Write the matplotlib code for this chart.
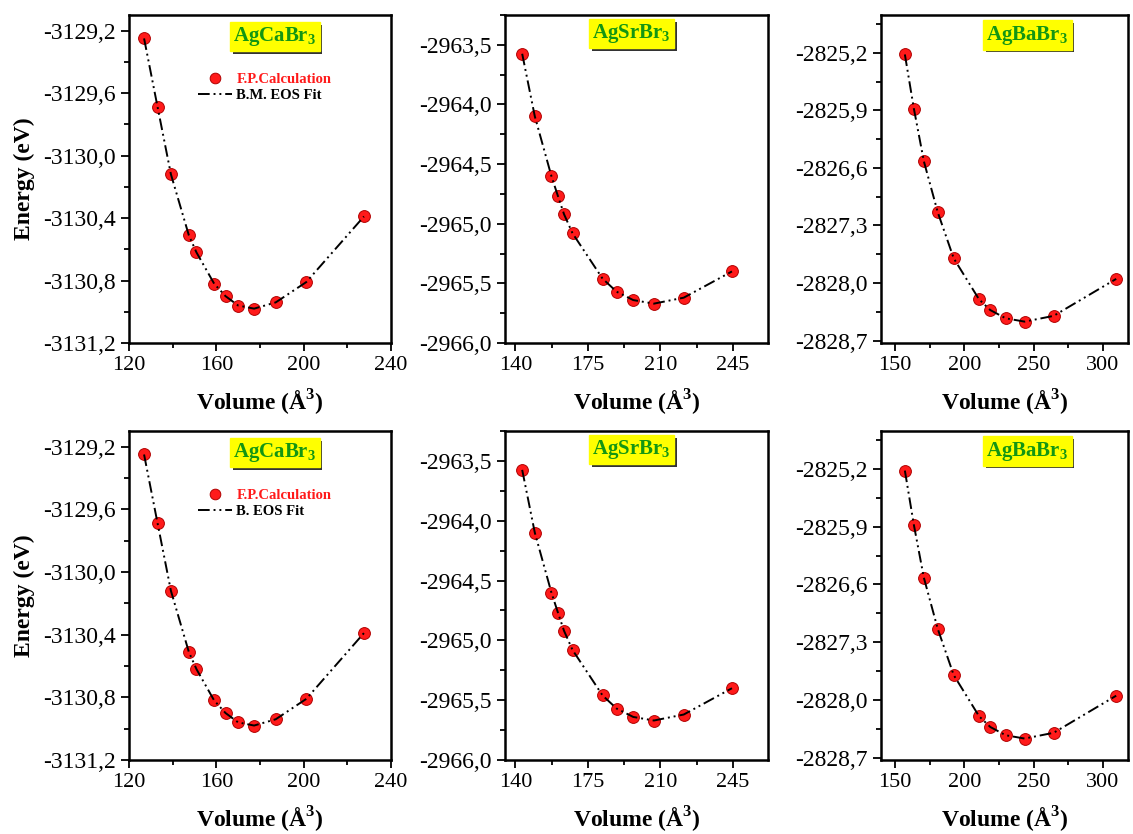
import matplotlib
matplotlib.use('Agg')
import matplotlib.pyplot as plt
import matplotlib.patheffects as pe
from matplotlib.ticker import FuncFormatter, AutoMinorLocator

plt.rcParams['font.family'] = ['Liberation Serif', 'DejaVu Serif']
plt.rcParams['axes.unicode_minus'] = False
plt.rcParams['mathtext.fontset'] = 'custom'
plt.rcParams['mathtext.rm'] = 'Liberation Serif'
plt.rcParams['mathtext.bf'] = 'Liberation Serif:bold'

# AgCaBr3
vol_ca = [126.9, 133.1, 139.2, 147.4, 150.9, 159.0, 164.2, 170.0, 177.3, 187.2, 201.2, 227.6]
en_ca = [-3129.25, -3129.69, -3130.12, -3130.51, -3130.62, -3130.82, -3130.90,
         -3130.96, -3130.98, -3130.94, -3130.81, -3130.39]
# AgSrBr3
vol_sr = [143.3, 149.4, 157.4, 160.6, 163.5, 167.6, 182.1, 188.9, 196.9, 206.9, 221.3, 244.6]
en_sr = [-2963.575, -2964.10, -2964.60, -2964.77, -2964.92, -2965.08, -2965.46,
         -2965.57, -2965.64, -2965.67, -2965.62, -2965.40]
# AgBaBr3
vol_ba = [157.2, 163.7, 170.9, 180.9, 192.4, 210.7, 218.8, 229.9, 243.5, 264.4, 309.5]
en_ba = [-2825.22, -2825.88, -2826.52, -2827.14, -2827.70, -2828.20, -2828.33,
         -2828.43, -2828.47, -2828.40, -2827.95]

xticks_ca = [120, 160, 200, 240]
yticks_ca = [-3131.2, -3130.8, -3130.4, -3130.0, -3129.6, -3129.2]
xticks_sr = [140, 175, 210, 245]
yticks_sr = [-2966.0, -2965.5, -2965.0, -2964.5, -2964.0, -2963.5]
xticks_ba = [150, 200, 250, 300]
yticks_ba = [-2828.7, -2828.0, -2827.3, -2826.6, -2825.9, -2825.2]

names = [r'AgCaBr$_\mathbf{3}$', r'AgSrBr$_\mathbf{3}$', r'AgBaBr$_\mathbf{3}$']
fit_labels = ['B.M. EOS Fit', 'B. EOS Fit']

panels = [
    (vol_ca, en_ca, xticks_ca, yticks_ca, (120, 240), (-3131.2, -3129.1), 0.557, 0.934),
    (vol_sr, en_sr, xticks_sr, yticks_sr, (135, 262), (-2966.0, -2963.25), 0.482, 0.944),
    (vol_ba, en_ba, xticks_ba, yticks_ba, (140, 318), (-2828.73, -2824.74), 0.593, 0.939),
]

W, H = 1133, 834
fig = plt.figure(figsize=(W / 100, H / 100), dpi=100)

col_px = [(129, 391), (505, 768), (881, 1128)]
row_px = [(15, 343), (431, 760)]

comma = FuncFormatter(lambda v, p: f"{v:.1f}".replace('.', ','))
intfmt = FuncFormatter(lambda v, p: f"{v:.0f}")

for r, (top, bot) in enumerate(row_px):
    for c, (left, right) in enumerate(col_px):
        vol, en, xt, yt, xl, yl, tx, ty = panels[c]
        ax = fig.add_axes([left / W, 1 - bot / H, (right - left) / W, (bot - top) / H])
        ax.plot(vol, en, 'o', color='#ff1a1a', markeredgecolor='#b00000', markeredgewidth=0.7,
                markersize=8.5, zorder=2, label='F.P.Calculation')
        ax.plot(vol, en, color='black', lw=1.4, linestyle=(0, (6, 2, 1, 2, 1, 2)), zorder=3,
                label=fit_labels[r])
        ax.set_xlim(*xl)
        ax.set_ylim(*yl)
        ax.set_xticks(xt)
        ax.set_yticks(yt)
        ax.xaxis.set_minor_locator(AutoMinorLocator(2))
        ax.yaxis.set_minor_locator(AutoMinorLocator(2))
        ax.xaxis.set_major_formatter(intfmt)
        ax.yaxis.set_major_formatter(comma)
        ax.tick_params(which='both', direction='out', width=1.3)
        ax.tick_params(axis='x', labelsize=16)
        ax.tick_params(axis='y', labelsize=17)
        ax.tick_params(which='major', length=6)
        ax.tick_params(which='minor', length=3.5)
        for s in ax.spines.values():
            s.set_linewidth(1.8)
        ax.set_xlabel(r'Volume (Å$^\mathbf{3}$)', fontsize=17, fontweight='bold', labelpad=9)
        if c == 0:
            ax.set_ylabel('Energy (eV)', fontsize=17, fontweight='bold', labelpad=6)
            ax.legend(loc='upper left', bbox_to_anchor=(0.215, 0.865), frameon=False,
                      prop={'family': 'Liberation Serif', 'weight': 'bold', 'size': 10.5},
                      labelcolor=['#ff1a1a', 'black'], handlelength=2.3, handletextpad=0.3,
                      labelspacing=0.2, markerscale=0.9)
        t = ax.text(tx, ty, names[c], transform=ax.transAxes, ha='center', va='center',
                    fontsize=15, fontweight='bold', color='#139613', zorder=5,
                    bbox=dict(boxstyle='square,pad=0.15', facecolor='#ffff00',
                              edgecolor='#ffff00'))
        t.get_bbox_patch().set_path_effects([
            pe.SimplePatchShadow(offset=(2, -2), shadow_rgbFace='#333333', alpha=1.0),
            pe.Normal()])

fig.savefig('out.png', dpi=100)
